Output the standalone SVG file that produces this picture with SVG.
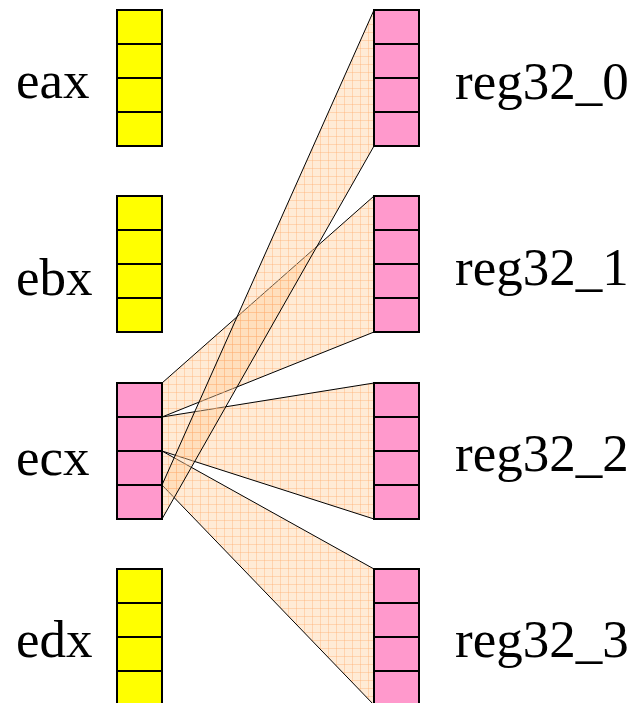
<svg xmlns="http://www.w3.org/2000/svg" width="635" height="703" viewBox="0 0 635 703">
  <defs>
    <pattern id="grid" width="8" height="8" patternUnits="userSpaceOnUse">
      <rect width="8" height="8" fill="#ffcc99" fill-opacity="0.4"/>
      <path d="M0 0.5H8M0.5 0V8" stroke="#ffb070" stroke-opacity="0.4" stroke-width="1" fill="none"/>
    </pattern>
  </defs>
  <style>
    .lbl { font-family: "Liberation Serif", "Times New Roman", serif; font-size: 53px; fill: #000; }
    .y { fill: #ffff00; stroke: #000; stroke-width: 2; }
    .p { fill: #ff99cc; stroke: #000; stroke-width: 2; }
    .div { stroke: #000; stroke-width: 2; fill: none; }
    .wedge { fill: url(#grid); stroke: #000; stroke-width: 1; stroke-linejoin: round; }
  </style>
  <rect width="635" height="703" fill="#ffffff"/>

  <g id="connectors">
    <polygon class="wedge" points="162,383 374,196 374,332 162,417"/>
    <polygon class="wedge" points="162,417 374,383 374,519 162,451"/>
    <polygon class="wedge" points="162,451 374,569 374,705 162,485"/>
    <polygon class="wedge" points="162,485 374,10 374,146 162,519"/>
  </g>

  <g id="eax">
    <rect class="y" x="117" y="10" width="45" height="136"/>
    <path class="div" d="M117 44H162M117 78H162M117 112H162"/>
    <text class="lbl" x="16" y="98">eax</text>
  </g>
  <g id="ebx">
    <rect class="y" x="117" y="196" width="45" height="136"/>
    <path class="div" d="M117 230H162M117 264H162M117 298H162"/>
    <text class="lbl" x="16" y="295">ebx</text>
  </g>
  <g id="ecx">
    <rect class="p" x="117" y="383" width="45" height="136"/>
    <path class="div" d="M117 417H162M117 451H162M117 485H162"/>
    <text class="lbl" x="16" y="475">ecx</text>
  </g>
  <g id="edx">
    <rect class="y" x="117" y="569" width="45" height="136"/>
    <path class="div" d="M117 603H162M117 637H162M117 671H162"/>
    <text class="lbl" x="16" y="657">edx</text>
  </g>

  <g id="reg32_0">
    <rect class="p" x="374" y="10" width="45" height="136"/>
    <path class="div" d="M374 44H419M374 78H419M374 112H419"/>
    <text class="lbl" x="455" y="99">reg32_0</text>
  </g>
  <g id="reg32_1">
    <rect class="p" x="374" y="196" width="45" height="136"/>
    <path class="div" d="M374 230H419M374 264H419M374 298H419"/>
    <text class="lbl" x="455" y="285">reg32_1</text>
  </g>
  <g id="reg32_2">
    <rect class="p" x="374" y="383" width="45" height="136"/>
    <path class="div" d="M374 417H419M374 451H419M374 485H419"/>
    <text class="lbl" x="455" y="471">reg32_2</text>
  </g>
  <g id="reg32_3">
    <rect class="p" x="374" y="569" width="45" height="136"/>
    <path class="div" d="M374 603H419M374 637H419M374 671H419"/>
    <text class="lbl" x="455" y="657">reg32_3</text>
  </g>
</svg>
